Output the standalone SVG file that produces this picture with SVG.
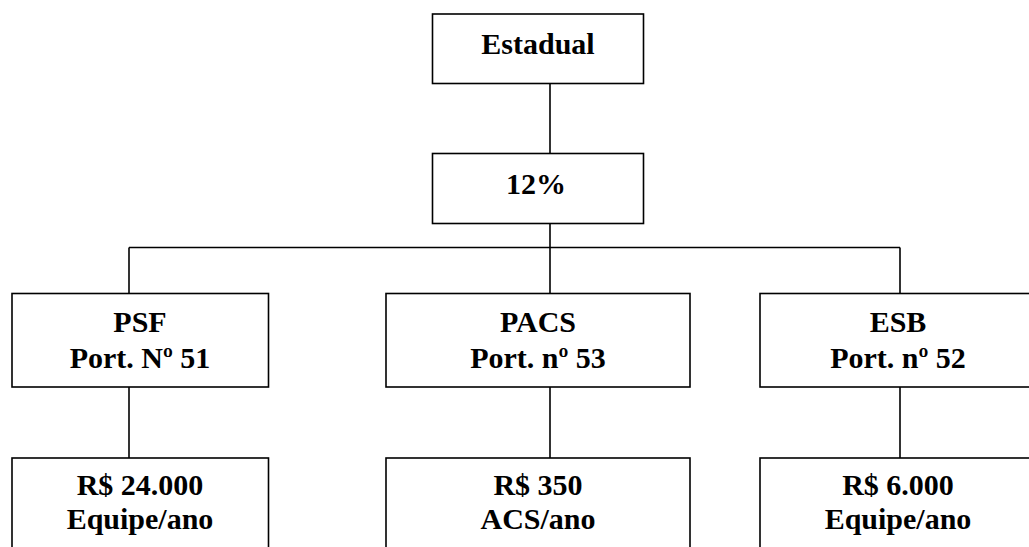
<svg xmlns="http://www.w3.org/2000/svg" width="1029" height="547" viewBox="0 0 1029 547">
<style>
.box{fill:#fff;stroke:#000;stroke-width:1.6}
.t{font-family:"Liberation Serif","Times New Roman",serif;font-weight:bold;font-size:30px;fill:#000;text-anchor:middle}
.c{stroke:#000;stroke-width:1.6;fill:none}
</style>
<rect width="1029" height="547" fill="#fff"/>
<g id="connectors">
<line class="c" x1="550" y1="83.5" x2="550" y2="153.5"/>
<line class="c" x1="550" y1="223.5" x2="550" y2="247.5"/>
<line class="c" x1="129" y1="247.5" x2="900" y2="247.5"/>
<line class="c" x1="129" y1="247.5" x2="129" y2="293.5"/>
<line class="c" x1="550" y1="247.5" x2="550" y2="293.5"/>
<line class="c" x1="900" y1="247.5" x2="900" y2="293.5"/>
<line class="c" x1="129" y1="387" x2="129" y2="458"/>
<line class="c" x1="550" y1="387" x2="550" y2="458"/>
<line class="c" x1="900" y1="387" x2="900" y2="458"/>
</g>
<g id="estadual">
<rect class="box" x="432.5" y="14" width="211" height="69.5"/>
<text class="t" x="538" y="53.5">Estadual</text>
</g>
<g id="pct">
<rect class="box" x="432.5" y="153.5" width="211" height="70"/>
<text class="t" x="536" y="193.5">12%</text>
</g>
<g id="psf">
<rect class="box" x="12" y="293.5" width="256.5" height="93.5"/>
<text class="t" x="140" y="331.5">PSF</text>
<text class="t" x="140" y="368">Port. Nº 51</text>
</g>
<g id="pacs">
<rect class="box" x="386" y="293.5" width="304" height="93.5"/>
<text class="t" x="538" y="331.5">PACS</text>
<text class="t" x="538" y="368">Port. nº 53</text>
</g>
<g id="esb">
<rect class="box" x="760" y="293.5" width="280" height="93.5"/>
<text class="t" x="898" y="331.5">ESB</text>
<text class="t" x="898" y="368">Port. nº 52</text>
</g>
<g id="psf-valor">
<rect class="box" x="12" y="458" width="256.5" height="100"/>
<text class="t" x="140" y="495">R$ 24.000</text>
<text class="t" x="140" y="529">Equipe/ano</text>
</g>
<g id="pacs-valor">
<rect class="box" x="386" y="458" width="304" height="100"/>
<text class="t" x="538" y="495">R$ 350</text>
<text class="t" x="538" y="529">ACS/ano</text>
</g>
<g id="esb-valor">
<rect class="box" x="760" y="458" width="280" height="100"/>
<text class="t" x="898" y="495">R$ 6.000</text>
<text class="t" x="898" y="529">Equipe/ano</text>
</g>
</svg>
